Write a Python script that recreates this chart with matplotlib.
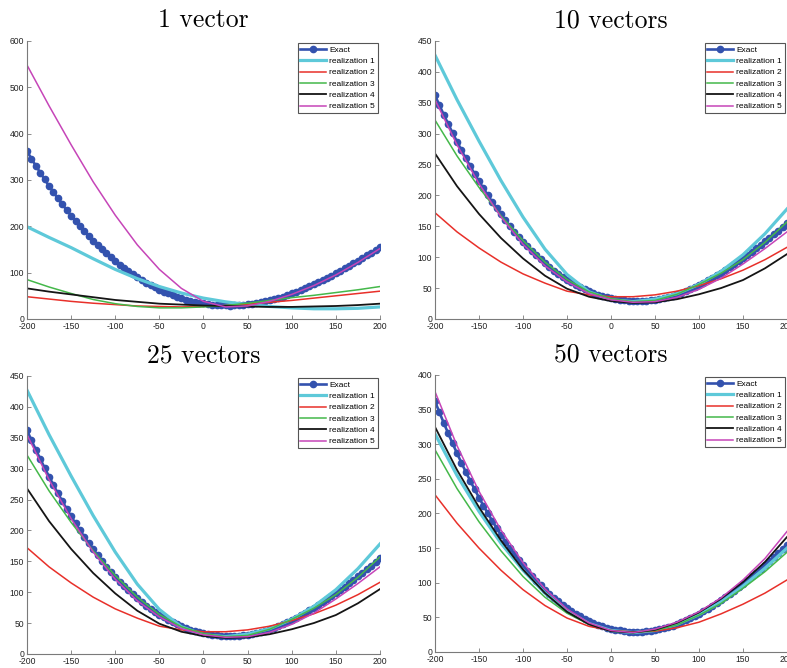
import matplotlib
matplotlib.use("Agg")
import matplotlib.pyplot as plt
import numpy as np

plt.rcParams['font.family'] = ['Liberation Sans', 'DejaVu Sans']
plt.rcParams['axes.unicode_minus'] = False

# exact curve, sampled every 5 (same in all four panels)
x_exact = np.arange(-200, 201, 5)
exact = [362.0, 346.1, 330.7, 315.7, 301.2, 287.1, 273.4, 260.1, 247.3, 235.0,
         223.0, 211.4, 200.3, 189.5, 179.1, 169.2, 159.5, 150.3, 141.5, 133.1,
         125.0, 117.3, 109.9, 102.9, 96.3, 89.9, 83.9, 78.4, 73.0, 68.1,
         63.3, 59.1, 55.0, 51.3, 47.9, 44.8, 42.0, 39.5, 37.2, 35.3,
         33.6, 32.2, 31.0, 30.1, 29.5, 29.1, 29.0, 29.1, 29.6, 30.3,
         31.3, 32.6, 34.1, 35.9, 37.9, 40.2, 42.7, 45.5, 48.4, 51.6,
         55.0, 58.6, 62.4, 66.3, 70.4, 74.7, 79.2, 83.9, 88.6, 93.5,
         98.6, 103.8, 109.0, 114.5, 120.1, 125.7, 131.4, 137.2, 143.1, 149.1,
         155.0]

# realizations, sampled every 25
x_real = np.arange(-200, 201, 25)

# 1 vector
v1_r1 = [199, 176, 154, 130, 107, 87, 70, 56, 45, 37, 31, 27, 24, 22, 22, 23, 26]
v1_r2 = [48, 43, 38, 34, 31, 28, 27, 26, 27, 29, 32, 36, 40, 45, 50, 55, 60]
v1_r3 = [85, 69, 55, 42, 33, 27, 24, 24, 26, 29, 34, 40, 46, 51, 57, 63, 70]
v1_r4 = [66, 59, 53, 47, 41, 37, 33, 31, 29, 28, 27, 26, 26, 27, 28, 30, 33]
v1_r5 = [548, 460, 376, 296, 224, 160, 107, 66, 38, 26, 28, 38, 53, 72, 95, 122, 152]

# 10 vectors
v10_r1 = [427, 355, 288, 224, 165, 113, 72, 44, 31, 28, 32, 41, 56, 77, 104, 138, 178]
v10_r2 = [172, 141, 115, 92, 73, 58, 45, 39, 36, 36, 39, 45, 54, 65, 79, 96, 116]
v10_r3 = [322, 264, 213, 167, 127, 92, 64, 44, 33, 28, 30, 40, 56, 74, 96, 124, 157]
v10_r4 = [268, 215, 170, 131, 98, 70, 49, 36, 29, 26, 27, 32, 40, 50, 63, 82, 105]
v10_r5 = [355, 282, 219, 165, 121, 86, 60, 41, 31, 27, 28, 35, 48, 66, 89, 114, 141]

# 25 vectors
v25_r1 = [427, 355, 288, 224, 165, 113, 72, 44, 31, 28, 32, 41, 56, 77, 104, 138, 178]
v25_r2 = [172, 141, 115, 92, 73, 58, 45, 39, 36, 36, 39, 45, 54, 65, 79, 96, 116]
v25_r3 = [322, 264, 213, 167, 127, 92, 64, 44, 33, 28, 30, 40, 56, 74, 96, 124, 157]
v25_r4 = [268, 215, 170, 131, 98, 70, 49, 36, 29, 26, 27, 32, 40, 50, 63, 82, 105]
v25_r5 = [355, 282, 219, 165, 121, 86, 60, 41, 31, 27, 28, 35, 48, 66, 89, 114, 141]

# 50 vectors
v50_r1 = [315, 255, 203, 157, 118, 85, 59, 41, 31, 28, 31, 40, 54, 72, 95, 121, 150]
v50_r2 = [227, 186, 150, 118, 90, 67, 49, 37, 31, 29, 30, 35, 43, 55, 69, 85, 104]
v50_r3 = [292, 236, 188, 146, 109, 79, 56, 40, 31, 28, 31, 39, 53, 70, 92, 116, 144]
v50_r4 = [325, 263, 209, 161, 119, 85, 58, 40, 30, 28, 32, 42, 57, 77, 101, 130, 166]
v50_r5 = [376, 298, 232, 176, 129, 91, 62, 42, 31, 28, 33, 43, 58, 78, 104, 135, 174]

titles = ['1 vector', '10 vectors', '25 vectors', '50 vectors']
panels = [
    [v1_r1, v1_r2, v1_r3, v1_r4, v1_r5],
    [v10_r1, v10_r2, v10_r3, v10_r4, v10_r5],
    [v25_r1, v25_r2, v25_r3, v25_r4, v25_r5],
    [v50_r1, v50_r2, v50_r3, v50_r4, v50_r5],
]
ymax = [600, 450, 450, 400]

labels = ['realization 1', 'realization 2', 'realization 3', 'realization 4', 'realization 5']
colors = ['#5ec9d9', '#e8302a', '#44b84a', '#151515', '#c645b8']
widths = [2.3, 1.1, 1.1, 1.3, 1.1]

fig = plt.figure(figsize=(7.87, 6.68), dpi=100)
boxes = [
    [0.0343, 0.5225, 0.4485, 0.4162],
    [0.5527, 0.5225, 0.4473, 0.4162],
    [0.0343, 0.0210, 0.4485, 0.4162],
    [0.5527, 0.0240, 0.4473, 0.4147],
]

for k in range(4):
    ax = fig.add_axes(boxes[k])
    ax.plot(x_exact, exact, color='#3352ae', lw=1.9, marker='o', ms=4.5,
            label='Exact')
    for j in range(5):
        ax.plot(x_real, panels[k][j], color=colors[j], lw=widths[j], label=labels[j])
    ax.set_xlim(-200, 200)
    ax.set_ylim(0, ymax[k])
    ax.set_xticks(np.arange(-200, 201, 50))
    ax.set_yticks(np.arange(0, ymax[k] + 1, 100 if k == 0 else 50))
    for s in ['top', 'right']:
        ax.spines[s].set_visible(False)
    for s in ['left', 'bottom']:
        ax.spines[s].set_color('#7a7a7a')
        ax.spines[s].set_linewidth(0.8)
    ax.tick_params(direction='in', length=3, width=0.6, color='#7a7a7a',
                   labelsize=6.2, labelcolor='#222222', pad=2)
    ax.set_title(titles[k], family='cmr10', fontsize=18.5, pad=10)
    leg = ax.legend(loc='upper right', fontsize=6, fancybox=False,
                    framealpha=1, edgecolor='#555555', handlelength=3.1,
                    handletextpad=0.35, labelspacing=0.42, borderpad=0.35,
                    borderaxespad=0.25)
    leg.get_frame().set_linewidth(0.8)

fig.savefig('out.png', dpi=100)
